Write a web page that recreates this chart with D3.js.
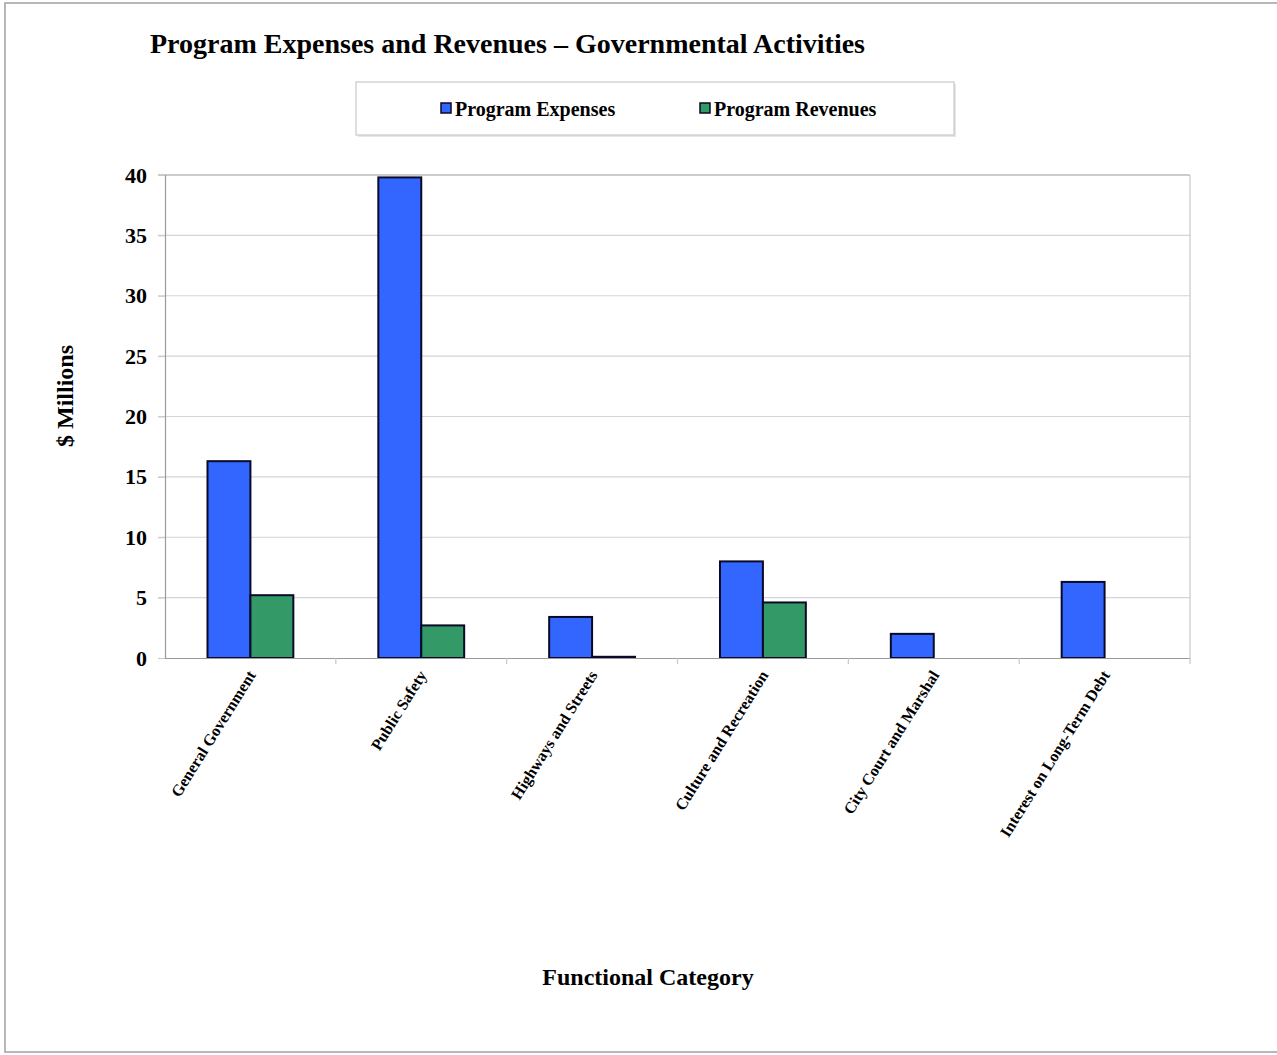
<!DOCTYPE html>
<html><head><meta charset="utf-8">
<script src="https://cdn.jsdelivr.net/npm/d3@7"></script>
<style>body{margin:0;background:#fff;} svg{display:block;} text{font-family:"Liberation Serif","Times New Roman",serif;font-weight:bold;fill:#000;}</style>
</head><body>
<svg id="chart" width="1277" height="1055"></svg>
<script>
const categories = ["General Government","Public Safety","Highways and Streets","Culture and Recreation","City Court and Marshal","Interest on Long-Term Debt"];
const expenses = [16.3, 39.8, 3.4, 8.0, 2.0, 6.3];
const revenues = [5.2, 2.7, 0.1, 4.6, 0, 0];
const seriesNames = ["Program Expenses","Program Revenues"];
const seriesColors = ["#3366FF","#339966"];
const yTicks = [0,5,10,15,20,25,30,35,40];

const svg = d3.select("#chart");
// outer frame
svg.append("rect").attr("x",5).attr("y",3).attr("width",1290).attr("height",1049)
  .attr("fill","none").attr("stroke","#a0a0a0").attr("stroke-width",1.5);

const m = {left:165, right:1190, top:175, bottom:658};
const x0 = d3.scaleBand().domain(categories).range([m.left,m.right]).paddingInner(0).paddingOuter(0);
const x1 = d3.scaleBand().domain(seriesNames).range([0,x0.bandwidth()]).paddingInner(0).paddingOuter(0.99);
const y = d3.scaleLinear().domain([0,40]).range([m.bottom,m.top]);

// gridlines
svg.append("g").selectAll("line").data(yTicks.filter(d=>d>0)).join("line")
  .attr("x1",m.left-7).attr("x2",m.right).attr("y1",d=>y(d)).attr("y2",d=>y(d))
  .attr("stroke",d=>d===40?"#9a9a9a":"#d4d4d4").attr("stroke-width",1.2);
// right border
svg.append("line").attr("x1",m.right).attr("x2",m.right).attr("y1",m.top).attr("y2",m.bottom)
  .attr("stroke","#c8c8c8").attr("stroke-width",1.2);

// y axis
const yAxis = d3.axisLeft(y).tickValues(yTicks).tickSize(7).tickPadding(11);
const gy = svg.append("g").attr("transform",`translate(${m.left},0)`).call(yAxis);
gy.select(".domain").attr("stroke","#9a9a9a").attr("stroke-width",1.2);
gy.selectAll(".tick line").attr("stroke","#c8c8c8");
gy.selectAll(".tick text").style("font-size","22px").style("font-family","'Liberation Serif',serif").style("font-weight","bold").attr("fill","#000");

// bars
const rows = categories.map((c,i)=>({cat:c, vals:[expenses[i],revenues[i]]}));
const groups = svg.append("g").selectAll("g").data(rows).join("g")
  .attr("transform",d=>`translate(${x0(d.cat)},0)`);
groups.selectAll("rect").data(d=>d.vals.map((v,j)=>({v,j})).filter(e=>e.v>0)).join("rect")
  .attr("x",e=>x1(seriesNames[e.j])).attr("width",x1.bandwidth())
  .attr("y",e=>y(e.v)).attr("height",e=>Math.max(1,y(0)-y(e.v)))
  .attr("fill",e=>seriesColors[e.j]).attr("stroke","#0a0a28").attr("stroke-width",2);

// x axis
const xAxis = d3.axisBottom(x0).tickSize(0).tickFormat("");
const gx = svg.append("g").attr("transform",`translate(0,${m.bottom})`).call(xAxis);
gx.select(".domain").attr("stroke","#9a9a9a").attr("stroke-width",1.2);
// category separator ticks
svg.append("g").selectAll("line").data(categories.slice(1).concat(["__end"])).join("line")
  .attr("x1",d=>d==="__end"?m.right:x0(d)).attr("x2",d=>d==="__end"?m.right:x0(d))
  .attr("y1",m.bottom).attr("y2",m.bottom+6).attr("stroke","#c8c8c8").attr("stroke-width",1.2);
// x labels
svg.append("g").selectAll("text").data(categories).join("text")
  .attr("transform",d=>`translate(${x0(d)+x0.bandwidth()/2+6},${m.bottom+17}) rotate(-58)`)
  .attr("text-anchor","end").attr("font-size","16px").text(d=>d);

// title
svg.append("text").attr("x",150).attr("y",53).attr("font-size","28px")
  .text("Program Expenses and Revenues \u2013 Governmental Activities");

// legend
svg.append("rect").attr("x",358).attr("y",84).attr("width",598).attr("height",53).attr("fill","#e6e6e6");
svg.append("rect").attr("x",356).attr("y",82).attr("width",598).attr("height",53)
  .attr("fill","#fff").attr("stroke","#c8c8c8").attr("stroke-width",1.2);
const legX = [441,700];
const lg = svg.append("g").selectAll("g").data(seriesNames).join("g")
  .attr("transform",(d,i)=>`translate(${legX[i]},103)`);
lg.append("rect").attr("width",10).attr("height",10).attr("fill",(d,i)=>seriesColors[i])
  .attr("stroke","#0a0a28").attr("stroke-width",1.5);
lg.append("text").attr("x",14).attr("y",13).attr("font-size","20px").text(d=>d);

// axis titles
svg.append("text").attr("transform","translate(73,396) rotate(-90)").attr("text-anchor","middle")
  .attr("font-size","24px").text("$ Millions");
svg.append("text").attr("x",648).attr("y",985).attr("text-anchor","middle")
  .attr("font-size","24px").text("Functional Category");
</script>
</body></html>
